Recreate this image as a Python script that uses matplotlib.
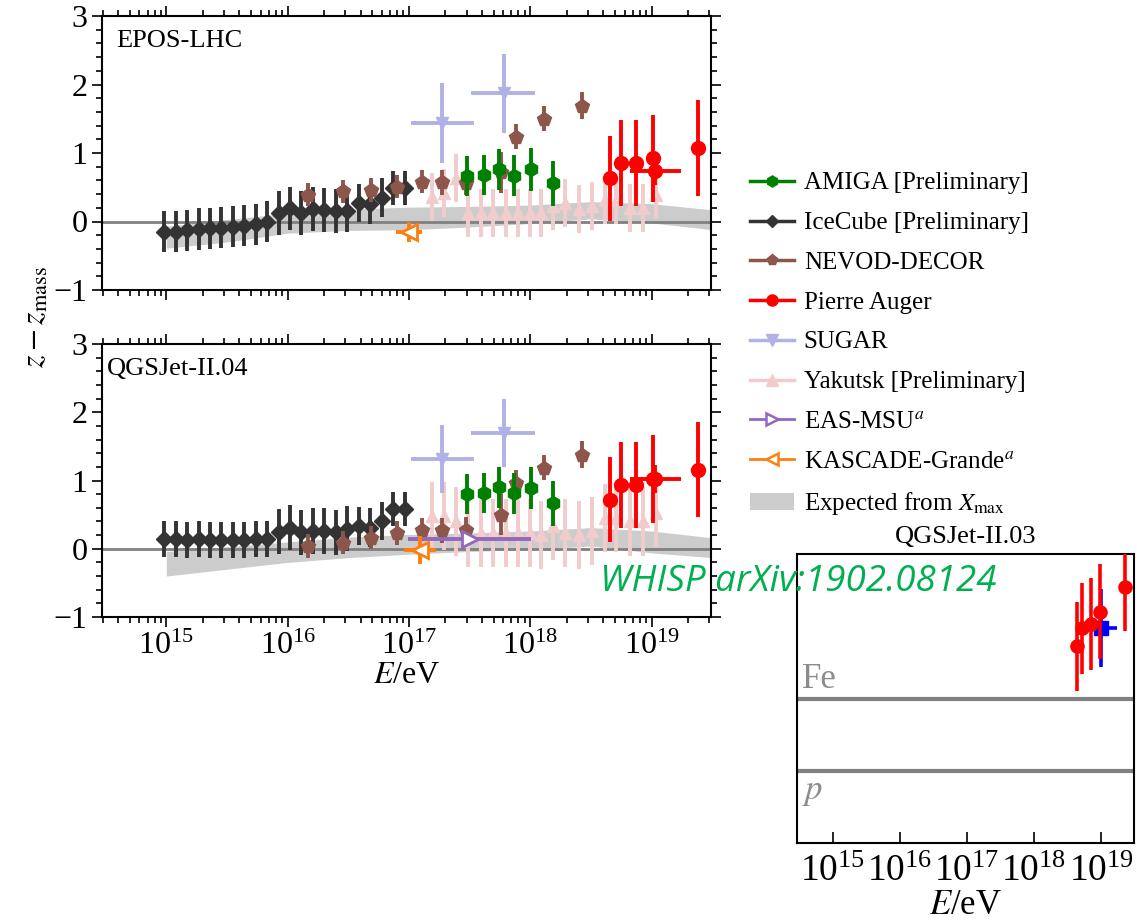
import numpy as np
import matplotlib
matplotlib.use("Agg")
import matplotlib.pyplot as plt
from matplotlib.lines import Line2D
from matplotlib.patches import Patch
from matplotlib.ticker import LogLocator, MultipleLocator, NullFormatter
import matplotlib.transforms as mtransforms

plt.rcParams['font.family'] = 'serif'
plt.rcParams['font.serif'] = ['Liberation Serif', 'DejaVu Serif']
plt.rcParams['mathtext.fontset'] = 'stix'

#------------------# Data (lg E/eV, z - z_mass) #------------------#
icecube_lgE = [14.98, 15.08, 15.17, 15.27, 15.36, 15.45, 15.55, 15.64, 15.74, 15.83, 15.93,
               16.02, 16.11, 16.21, 16.30, 16.40, 16.49, 16.59, 16.68, 16.78, 16.87, 16.97]
icecube_epos = [-0.15, -0.15, -0.13, -0.11, -0.10, -0.09, -0.075, -0.06, -0.04, -0.005, 0.13,
                0.19, 0.12, 0.18, 0.17, 0.15, 0.16, 0.27, 0.25, 0.35, 0.49, 0.49]
icecube_qgs = [0.14, 0.14, 0.13, 0.14, 0.13, 0.13, 0.13, 0.13, 0.14, 0.14, 0.25,
               0.31, 0.24, 0.26, 0.26, 0.24, 0.29, 0.33, 0.31, 0.41, 0.58, 0.58]
icecube_err_epos = [0.30] * 10 + [0.32] * 7 + [0.28] * 3 + [0.25] * 2
icecube_err_qgs = [0.26] * 10 + [0.33] * 7 + [0.28] * 3 + [0.25] * 2

nevod_lgE = [16.17, 16.46, 16.69, 16.90, 17.11, 17.27, 17.47, 17.76, 17.88, 18.11, 18.43]
nevod_epos = [0.39, 0.44, 0.46, 0.51, 0.58, 0.57, 0.56, 0.72, 1.24, 1.50, 1.69]
nevod_qgs = [0.04, 0.09, 0.16, 0.23, 0.28, 0.27, 0.28, 0.50, 0.97, 1.19, 1.38]
nevod_err = [0.17, 0.17, 0.17, 0.17, 0.17, 0.18, 0.18, 0.30, 0.18, 0.18, 0.20]

amiga_lgE = [17.48, 17.62, 17.74, 17.87, 18.01, 18.19]
amiga_epos = [0.66, 0.68, 0.76, 0.67, 0.76, 0.56]
amiga_qgs = [0.80, 0.82, 0.90, 0.81, 0.89, 0.67]
amiga_err = [0.29, 0.29, 0.30, 0.30, 0.31, 0.33]

auger_lgE = [18.66, 18.75, 18.87, 19.01, 19.38]
auger_epos = [0.63, 0.85, 0.85, 0.92, 1.07]
auger_qgs = [0.72, 0.94, 0.94, 1.02, 1.16]
auger_err = [0.62, 0.63, 0.63, 0.64, 0.70]
# inclined-shower point with an energy range
auger_inc_lgE = [19.03]
auger_inc_lo = [18.82]
auger_inc_hi = [19.24]
auger_inc_epos = [0.73]
auger_inc_qgs = [1.02]
auger_inc_err = [0.20]

sugar_lgE = [17.27, 17.78]
sugar_lo = [17.02, 17.51]
sugar_hi = [17.54, 18.04]
sugar_epos = [1.44, 1.87]
sugar_qgs = [1.31, 1.70]
sugar_err_epos = [0.58, 0.58]
sugar_err_qgs = [0.50, 0.50]

yakutsk_lgE = [17.19, 17.29, 17.39, 17.49, 17.59, 17.69, 17.80, 17.90, 18.00, 18.09,
               18.19, 18.29, 18.40, 18.51, 18.62, 18.71, 18.82, 18.93, 19.04]
yakutsk_epos = [0.36, 0.41, 0.64, 0.13, 0.13, 0.13, 0.13, 0.13, 0.13, 0.13,
                0.22, 0.27, 0.18, 0.22, 0.32, 0.32, 0.20, 0.20, 0.38]
yakutsk_qgs = [0.48, 0.48, 0.40, 0.23, 0.23, 0.23, 0.23, 0.23, 0.23, 0.20,
               0.33, 0.23, 0.20, 0.26, 0.45, 0.45, 0.40, 0.40, 0.53]
yakutsk_err_epos = [0.35] * 19
yakutsk_err_qgs = [0.50] * 19

easmsu_lgE = [17.50]
easmsu_lo = [16.99]
easmsu_hi = [18.01]
easmsu_qgs = [0.14]

kascade_lgE_epos = [17.00]
kascade_lgE_qgs = [17.09]
kascade_lo_epos, kascade_hi_epos = [16.89], [17.11]
kascade_lo_qgs, kascade_hi_qgs = [16.96], [17.22]
kascade_epos = [-0.15]
kascade_qgs = [-0.02]
kascade_err_epos = [0.15]
kascade_err_qgs = [0.21]

band_lgE = [15.0, 15.5, 16.0, 16.5, 17.0, 17.5, 18.0, 18.5, 19.0, 19.5]
band_epos_lo = [-0.39, -0.30, -0.17, -0.13, -0.12, -0.08, -0.03, 0.04, -0.02, -0.12]
band_epos_hi = [-0.07, 0.03, 0.12, 0.18, 0.21, 0.22, 0.24, 0.29, 0.26, 0.17]
band_qgs_lo = [-0.40, -0.30, -0.20, -0.13, -0.08, -0.04, -0.01, 0.04, -0.06, -0.13]
band_qgs_hi = [-0.04, 0.03, 0.10, 0.17, 0.21, 0.23, 0.26, 0.31, 0.26, 0.16]

# WHISP (QGSJet-II.03), (z - z_p) / (z_Fe - z_p)
whisp_lgE = [18.64, 18.72, 18.85, 18.99, 19.36]
whisp_val = [1.72, 1.97, 2.03, 2.20, 2.55]
whisp_err = [0.61, 0.63, 0.64, 0.66, 0.62]
whisp_sq_lgE = [19.00]
whisp_sq_lo = [18.89]
whisp_sq_hi = [19.24]
whisp_sq_val = [1.97]
whisp_sq_err = [0.54]

#------------------# Styles #------------------#
c_amiga = '#008000'
c_ice = '#333333'
c_nevod = '#8c564b'
c_auger = '#ff0000'
c_sugar = '#b1b1e6'
c_yak = '#f2cccc'
c_msu = '#9467bd'
c_kas = '#ff7f0e'
c_band = '#cccccc'

xmin, xmax = 10 ** 14.47, 10 ** 19.49


def E(lg):
    return 10 ** np.asarray(lg, dtype=float)


def xerr_of(lg, lo, hi):
    return [E(lg) - E(lo), E(hi) - E(lg)]


def setup_axes(ax):
    ax.set_xscale('log')
    ax.set_xlim(xmin, xmax)
    ax.set_ylim(-1, 3)
    ax.yaxis.set_major_locator(MultipleLocator(1))
    ax.yaxis.set_minor_locator(MultipleLocator(0.2))
    ax.xaxis.set_major_locator(LogLocator(base=10, numticks=20))
    ax.xaxis.set_minor_locator(LogLocator(base=10, subs=np.arange(2, 10), numticks=20))
    ax.xaxis.set_minor_formatter(NullFormatter())
    ax.tick_params(which='both', direction='out', top=True, right=True, width=1.2, labelsize=23)
    ax.tick_params(which='major', length=7)
    ax.tick_params(which='minor', length=4)
    for s in ax.spines.values():
        s.set_linewidth(1.5)


def draw_panel(ax, ice, ice_err, nev, amg, aug, aug_inc, sug, sug_err, yak, yak_err,
               kas_lg, kas_lo, kas_hi, kas, kas_err, b_lo, b_hi, msu=None):
    ax.fill_between(E(band_lgE), b_lo, b_hi, color=c_band, lw=0, zorder=1)
    ax.axhline(0, color='#808080', lw=2, zorder=2)
    eb = dict(ls='none', elinewidth=2.8, capsize=0)
    ax.errorbar(E(yakutsk_lgE), yak, yerr=yak_err, fmt='^', color=c_yak, ms=8, zorder=3, **eb)
    ax.errorbar(E(icecube_lgE), ice, yerr=ice_err, fmt='D', color=c_ice, ms=8, zorder=4, **eb)
    ax.errorbar(E(nevod_lgE), nev, yerr=nevod_err, fmt='p', color=c_nevod, ms=10, zorder=5, **eb)
    ax.errorbar(E(amiga_lgE), amg, yerr=amiga_err, fmt='h', color=c_amiga, ms=10, zorder=6, **eb)
    ax.errorbar(E(auger_lgE), aug, yerr=auger_err, fmt='o', color=c_auger, ms=10, zorder=7, **eb)
    ax.errorbar(E(auger_inc_lgE), aug_inc, yerr=auger_inc_err,
                xerr=xerr_of(auger_inc_lgE, auger_inc_lo, auger_inc_hi),
                fmt='o', color=c_auger, ms=10, zorder=7, **eb)
    ax.errorbar(E(sugar_lgE), sug, yerr=sug_err, xerr=xerr_of(sugar_lgE, sugar_lo, sugar_hi),
                fmt='v', color=c_sugar, ms=9, zorder=6, **eb)
    if msu is not None:
        ax.errorbar(E(easmsu_lgE), msu, xerr=xerr_of(easmsu_lgE, easmsu_lo, easmsu_hi),
                    fmt='>', color=c_msu, mfc='white', mew=2, ms=11, zorder=8, **eb)
    ax.errorbar(E(kas_lg), kas, yerr=kas_err, xerr=xerr_of(kas_lg, kas_lo, kas_hi),
                fmt='<', color=c_kas, mfc='white', mew=2, ms=11, zorder=8, **eb)


fig = plt.figure(figsize=(11.37, 9.24), dpi=100)
W, H = 1137.0, 924.0

ax1 = fig.add_axes([102 / W, 1 - 290 / H, 609 / W, 274 / H])
ax2 = fig.add_axes([102 / W, 1 - 617 / H, 609 / W, 273 / H])
for ax in (ax1, ax2):
    setup_axes(ax)
ax1.tick_params(labelbottom=False)

draw_panel(ax1, icecube_epos, icecube_err_epos, nevod_epos, amiga_epos, auger_epos, auger_inc_epos,
           sugar_epos, sugar_err_epos, yakutsk_epos, yakutsk_err_epos,
           kascade_lgE_epos, kascade_lo_epos, kascade_hi_epos, kascade_epos, kascade_err_epos,
           band_epos_lo, band_epos_hi)
draw_panel(ax2, icecube_qgs, icecube_err_qgs, nevod_qgs, amiga_qgs, auger_qgs, auger_inc_qgs,
           sugar_qgs, sugar_err_qgs, yakutsk_qgs, yakutsk_err_qgs,
           kascade_lgE_qgs, kascade_lo_qgs, kascade_hi_qgs, kascade_qgs, kascade_err_qgs,
           band_qgs_lo, band_qgs_hi, msu=easmsu_qgs)

ax1.text(0.023, 0.91, 'EPOS-LHC', transform=ax1.transAxes, fontsize=19, va='center')
ax2.text(0.008, 0.91, 'QGSJet-II.04', transform=ax2.transAxes, fontsize=19, va='center')
ax2.set_xlabel('$E$/eV', fontsize=23, labelpad=0)
fig.text(36 / W, 1 - 317 / H, r'$z - z_{\rm mass}$', rotation=90, ha='center', va='center', fontsize=23)

# legend
handles = [
    Line2D([], [], color=c_amiga, marker='h', ms=8, lw=2.5),
    Line2D([], [], color=c_ice, marker='D', ms=6, lw=2.5),
    Line2D([], [], color=c_nevod, marker='p', ms=8, lw=2.5),
    Line2D([], [], color=c_auger, marker='o', ms=8, lw=2.5),
    Line2D([], [], color=c_sugar, marker='v', ms=8, lw=2.5),
    Line2D([], [], color=c_yak, marker='^', ms=8, lw=2.5),
    Line2D([], [], color=c_msu, marker='>', ms=9, lw=2, mfc='white', mew=1.8),
    Line2D([], [], color=c_kas, marker='<', ms=9, lw=2, mfc='white', mew=1.8),
    Patch(facecolor=c_band, edgecolor='none'),
]
labels = ['AMIGA [Preliminary]', 'IceCube [Preliminary]', 'NEVOD-DECOR', 'Pierre Auger', 'SUGAR',
          'Yakutsk [Preliminary]', 'EAS-MSU$^a$', 'KASCADE-Grande$^a$', r'Expected from $X_{\rm max}$']
fig.legend(handles, labels, loc='upper left', bbox_to_anchor=(750 / W, 1 - 172 / H), frameon=False,
           fontsize=18, handlelength=1.75, handletextpad=0.4, labelspacing=0.69,
           borderpad=0, borderaxespad=0)

# WHISP inset
ax3 = fig.add_axes([797 / W, 1 - 843 / H, 337 / W, 289 / H])
ax3.set_xscale('log')
ax3.set_xlim(xmin, xmax)
ax3.set_ylim(-1, 3)
ax3.set_yticks([])
ax3.xaxis.set_major_locator(LogLocator(base=10, numticks=20))
ax3.xaxis.set_minor_locator(LogLocator(base=10, subs=[], numticks=20))
ax3.tick_params(which='major', direction='in', length=8, width=1.2, labelsize=27, pad=8)
for s in ax3.spines.values():
    s.set_linewidth(1.5)
ax3.axhline(0, color='#808080', lw=3)
ax3.axhline(1, color='#808080', lw=3)
trans = mtransforms.blended_transform_factory(ax3.transAxes, ax3.transData)
ax3.text(0.015, 1.03, 'Fe', transform=trans, color='#8c8c8c', fontsize=25, va='bottom')
ax3.text(0.015, -0.06, '$p$', transform=trans, color='#8c8c8c', fontsize=25, va='top')
ax3.errorbar(E(whisp_lgE), whisp_val, yerr=whisp_err, fmt='o', color='#ff0000', ms=9.5,
             ls='none', elinewidth=2.6, capsize=0, zorder=4)
ax3.errorbar(E(whisp_sq_lgE), whisp_sq_val, yerr=whisp_sq_err,
             xerr=xerr_of(whisp_sq_lgE, whisp_sq_lo, whisp_sq_hi), fmt='s', color='#0000ff', ms=10,
             ls='none', elinewidth=2.6, capsize=0, zorder=3)
ax3.set_title('QGSJet-II.03', fontsize=19, pad=8)
ax3.set_xlabel('$E$/eV', fontsize=25, labelpad=0)

fig.text(600 / W, 1 - 591 / H, 'WHISP arXiv:1902.08124', color='#00b050', style='italic',
         family='Open Sans', fontsize=26.5, zorder=10)

fig.savefig('out.png', dpi=100)
